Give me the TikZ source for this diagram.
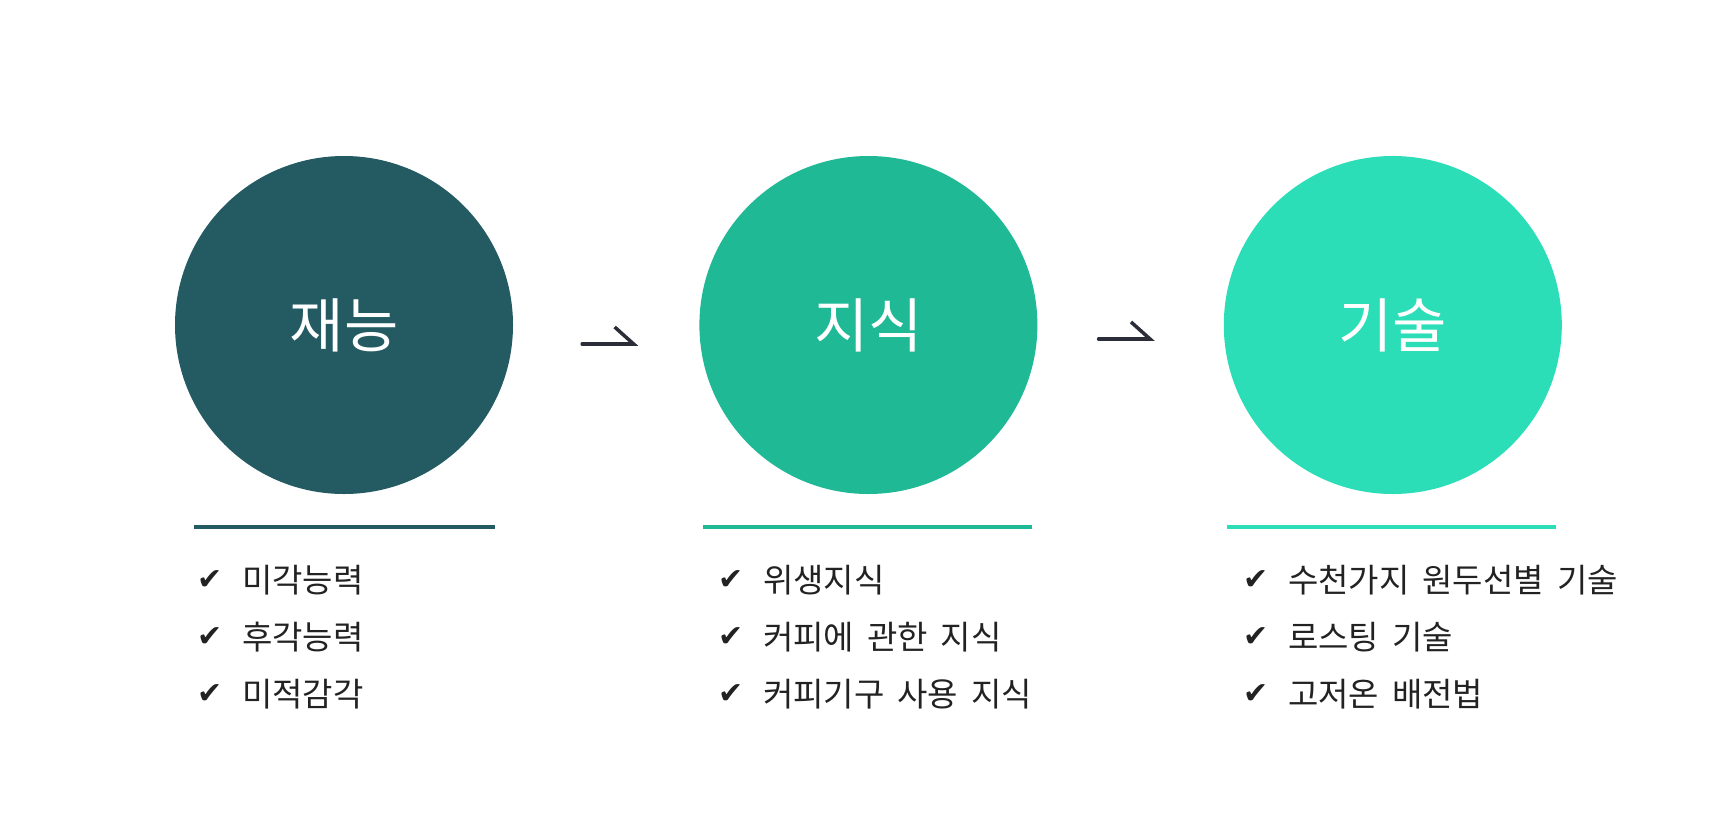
\documentclass[tikz,border=0pt]{standalone}
\usepackage{fontspec}
\setmainfont{Noto Sans CJK KR}
\newfontfamily\checkfont{DejaVu Sans}
\usetikzlibrary{positioning, arrows.meta}

\definecolor{talent}{HTML}{245B63}
\definecolor{knowledge}{HTML}{1FB996}
\definecolor{skill}{HTML}{2BDEB7}
\definecolor{arrowgray}{HTML}{2B2E38}
\definecolor{itemtext}{HTML}{222222}

\newcommand{\itemfont}{\fontsize{33}{38}\selectfont\spaceskip=13pt plus 0pt minus 0pt\relax}
\tikzset{
  stage/.style={circle, minimum size=338pt, inner sep=0pt, text=white, font=\fontsize{59}{62}\selectfont},
  underline/.style={line width=4pt},
  flow/.style={draw=arrowgray, line width=3.5pt, line cap=round, -{Straight Barb[harpoon, length=19pt, width=34pt]}},
  item/.style={anchor=west, inner sep=0pt, text=itemtext, font=\itemfont},
}
\newcommand{\chk}{\makebox[45pt][l]{\raisebox{2.5pt}{\checkfont\fontsize{30}{30}\selectfont ✔}}}

\begin{document}
\begin{tikzpicture}[x=1pt, y=-1pt]
\useasboundingbox[fill=white] (0,0) rectangle (1715,836);

\node[stage, fill=talent] (c1) at (344,325) {재능};
\node[stage, fill=knowledge, right=186pt of c1] (c2) {지식};
\node[stage, fill=skill, right=186pt of c2] (c3) {기술};

\draw[flow, shorten <=69pt, shorten >=61pt] ([yshift=-19pt]c1.east) -- ([yshift=-19pt]c2.west);
\draw[flow, shorten <=61pt, shorten >=69pt] ([yshift=-14pt]c2.east) -- ([yshift=-14pt]c3.west);

\draw[underline, talent] (194,527) -- (495,527);
\draw[underline, knowledge] (703,527) -- (1032,527);
\draw[underline, skill] (1227,527) -- (1556,527);

\node[item] (t1) at (197,580) {\chk 미각능력};
\node[item] (t2) at (197,637) {\chk 후각능력};
\node[item] (t3) at (197,694) {\chk 미적감각};

\node[item] (k1) at (718,580) {\chk 위생지식};
\node[item] (k2) at (718,637) {\chk 커피에 관한 지식};
\node[item] (k3) at (718,694) {\chk 커피기구 사용 지식};

\node[item] (s1) at (1243,580) {\chk 수천가지 원두선별 기술};
\node[item] (s2) at (1243,637) {\chk 로스팅 기술};
\node[item] (s3) at (1243,694) {\chk 고저온 배전법};
\end{tikzpicture}
\end{document}
